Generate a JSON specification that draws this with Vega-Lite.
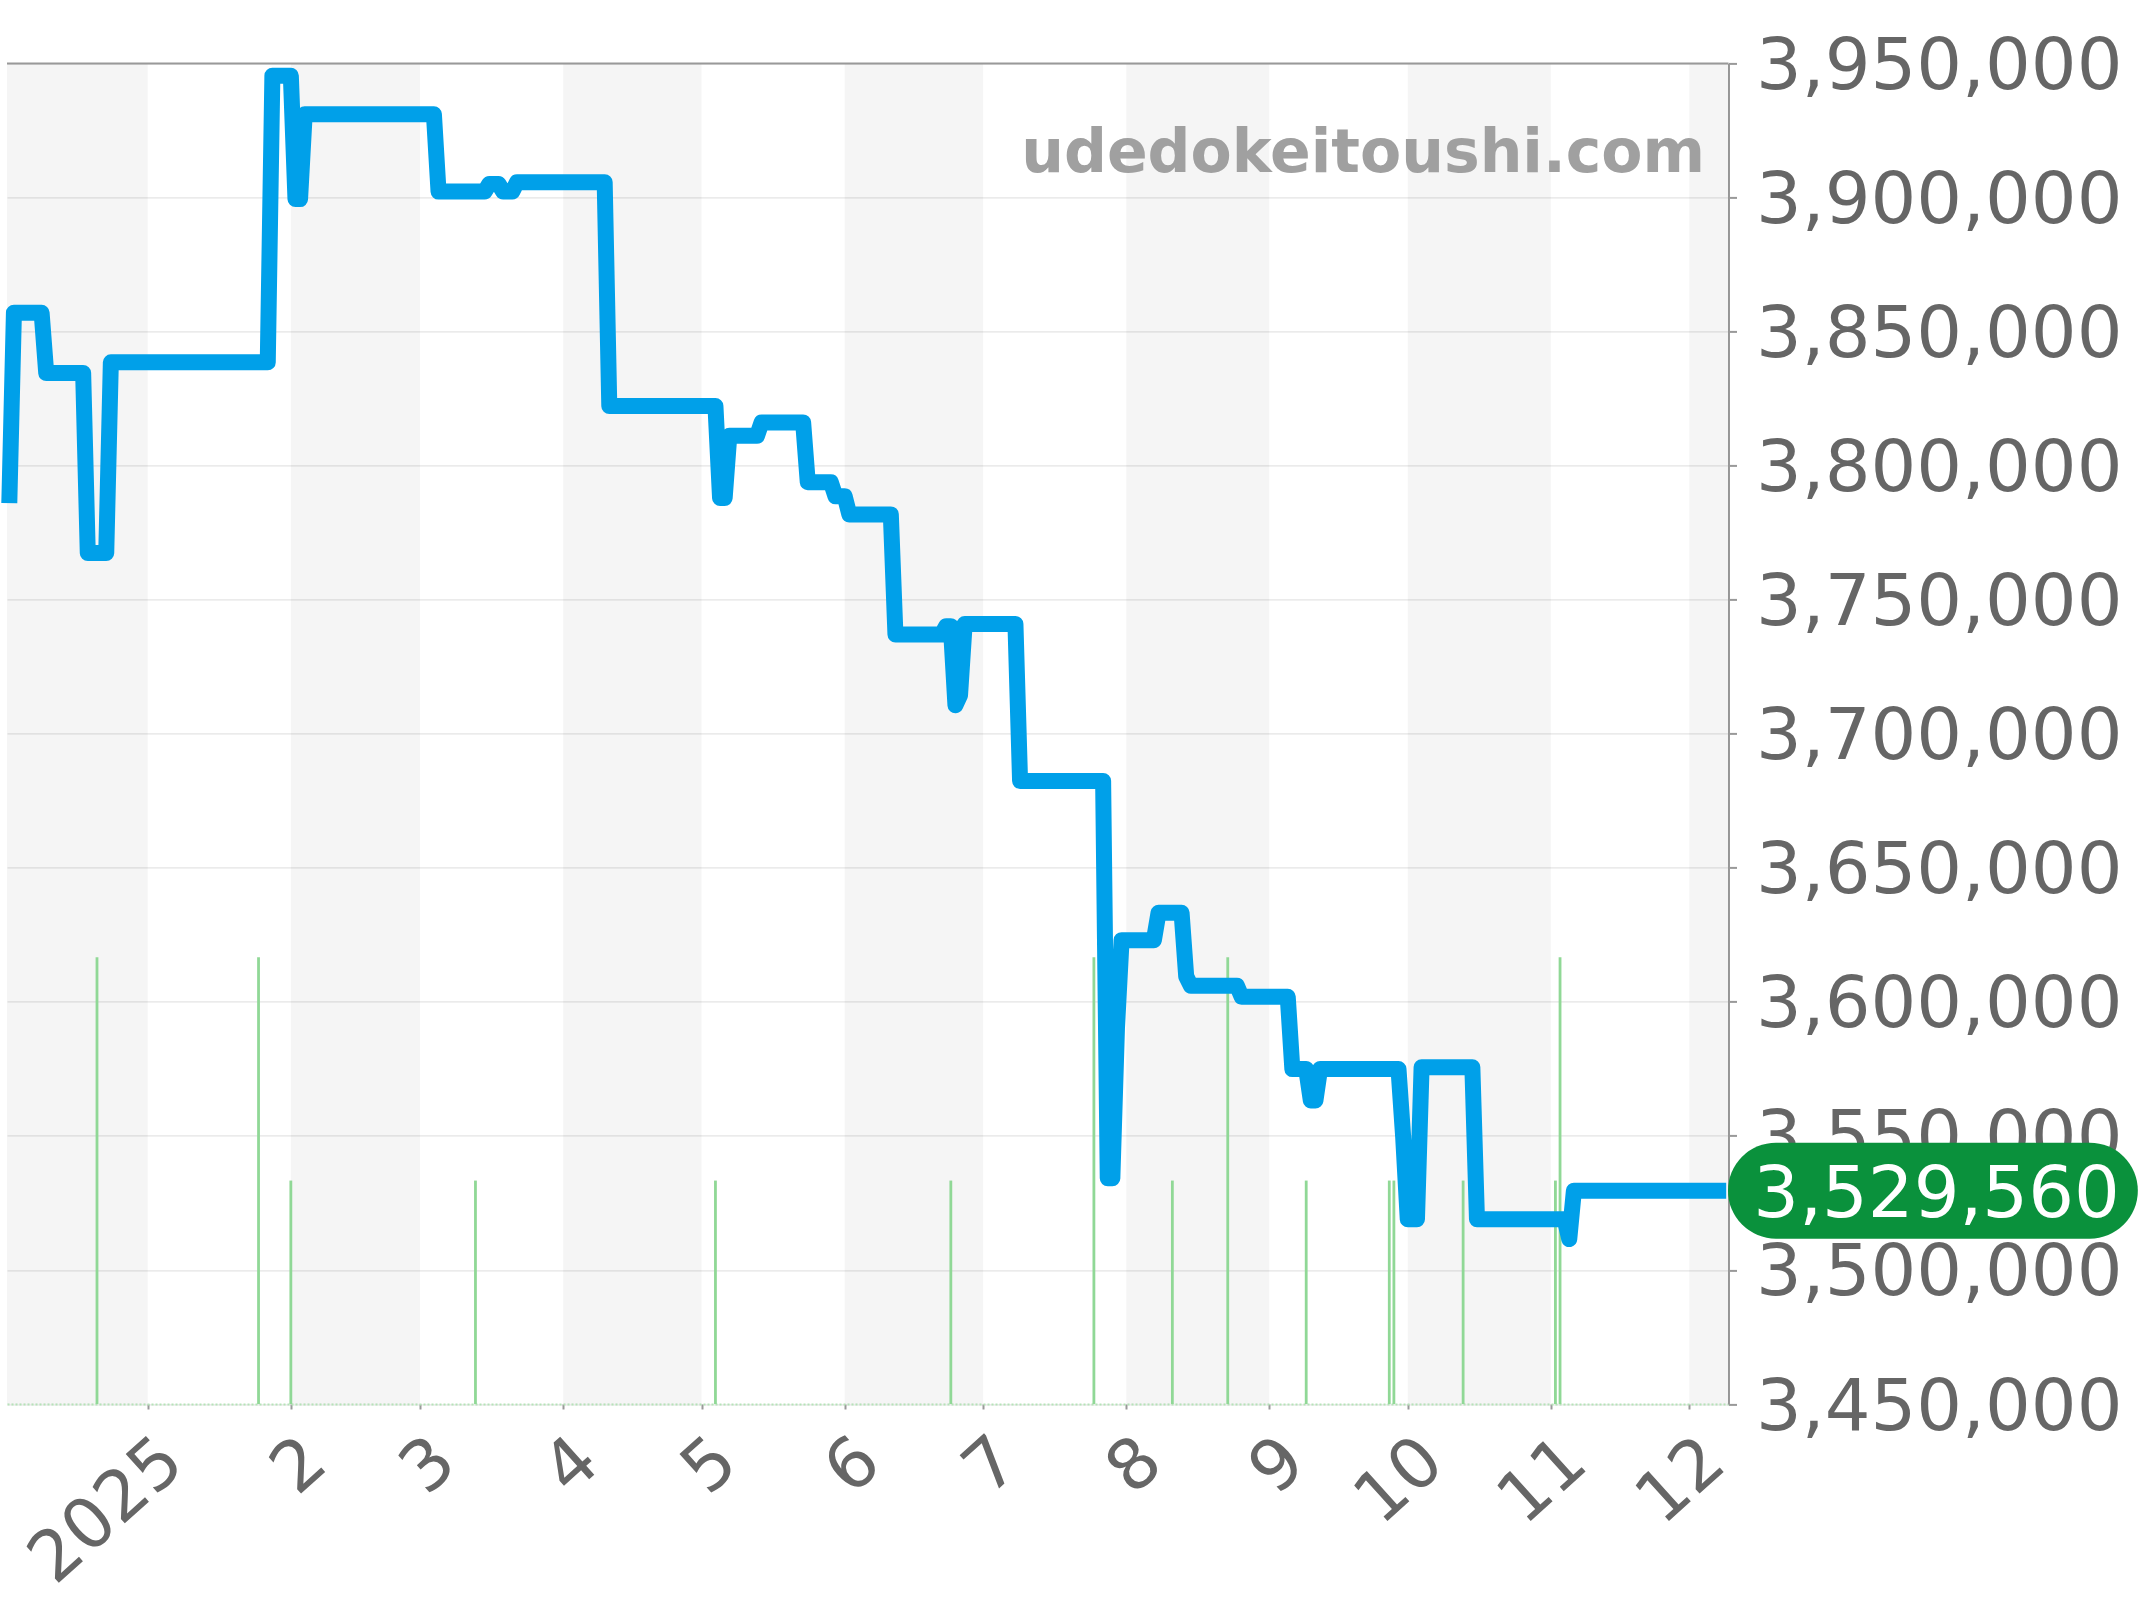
{
  "$schema": "https://vega.github.io/schema/vega-lite/v6.json",
  "autosize": {"type": "none"},
  "width": 1721.5,
  "height": 1340.6,
  "padding": {"left": 7, "top": 63.4, "right": 415.5, "bottom": 196},
  "background": "white",
  "config": {
    "font": "DejaVu Sans",
    "view": {"stroke": null}
  },
  "datasets": {
    "months": [
      {"start": "2024-12-01", "end": "2025-01-01"},
      {"start": "2025-02-01", "end": "2025-03-01"},
      {"start": "2025-04-01", "end": "2025-05-01"},
      {"start": "2025-06-01", "end": "2025-07-01"},
      {"start": "2025-08-01", "end": "2025-09-01"},
      {"start": "2025-10-01", "end": "2025-11-01"},
      {"start": "2025-12-01", "end": "2026-01-01"}
    ],
    "sales": [
      {"date": "2024-12-21", "count": 2},
      {"date": "2025-01-25", "count": 2},
      {"date": "2025-02-01", "count": 1},
      {"date": "2025-03-13", "count": 1},
      {"date": "2025-05-04", "count": 1},
      {"date": "2025-06-24", "count": 1},
      {"date": "2025-07-25", "count": 2},
      {"date": "2025-08-11", "count": 1},
      {"date": "2025-08-23", "count": 2},
      {"date": "2025-09-09", "count": 1},
      {"date": "2025-09-27", "count": 1},
      {"date": "2025-09-28", "count": 1},
      {"date": "2025-10-13", "count": 1},
      {"date": "2025-11-02", "count": 1},
      {"date": "2025-11-03", "count": 2}
    ],
    "prices": [
      {"date": "2024-12-02", "price": 3786000},
      {"date": "2024-12-03", "price": 3857000},
      {"date": "2024-12-09", "price": 3857000},
      {"date": "2024-12-10", "price": 3834500},
      {"date": "2024-12-18", "price": 3834500},
      {"date": "2024-12-19", "price": 3767400},
      {"date": "2024-12-23", "price": 3767400},
      {"date": "2024-12-24", "price": 3838500},
      {"date": "2025-01-27", "price": 3838500},
      {"date": "2025-01-28", "price": 3945400},
      {"date": "2025-02-01", "price": 3945400},
      {"date": "2025-02-02", "price": 3899400},
      {"date": "2025-02-03", "price": 3899400},
      {"date": "2025-02-04", "price": 3931000},
      {"date": "2025-03-04", "price": 3931000},
      {"date": "2025-03-05", "price": 3902200},
      {"date": "2025-03-15", "price": 3902200},
      {"date": "2025-03-16", "price": 3905000},
      {"date": "2025-03-18", "price": 3905000},
      {"date": "2025-03-19", "price": 3902200},
      {"date": "2025-03-21", "price": 3902200},
      {"date": "2025-03-22", "price": 3905700},
      {"date": "2025-04-10", "price": 3905700},
      {"date": "2025-04-11", "price": 3822200},
      {"date": "2025-05-04", "price": 3822200},
      {"date": "2025-05-05", "price": 3787900},
      {"date": "2025-05-06", "price": 3787900},
      {"date": "2025-05-07", "price": 3811100},
      {"date": "2025-05-13", "price": 3811100},
      {"date": "2025-05-14", "price": 3816100},
      {"date": "2025-05-23", "price": 3816100},
      {"date": "2025-05-24", "price": 3793800},
      {"date": "2025-05-29", "price": 3793800},
      {"date": "2025-05-30", "price": 3788600},
      {"date": "2025-06-01", "price": 3788600},
      {"date": "2025-06-02", "price": 3781800},
      {"date": "2025-06-11", "price": 3781800},
      {"date": "2025-06-12", "price": 3737000},
      {"date": "2025-06-22", "price": 3737000},
      {"date": "2025-06-23", "price": 3740100},
      {"date": "2025-06-24", "price": 3740100},
      {"date": "2025-06-25", "price": 3710600},
      {"date": "2025-06-26", "price": 3714400},
      {"date": "2025-06-27", "price": 3740900},
      {"date": "2025-07-08", "price": 3740900},
      {"date": "2025-07-09", "price": 3682400},
      {"date": "2025-07-27", "price": 3682400},
      {"date": "2025-07-28", "price": 3534200},
      {"date": "2025-07-29", "price": 3534200},
      {"date": "2025-07-30", "price": 3590200},
      {"date": "2025-07-31", "price": 3623000},
      {"date": "2025-08-07", "price": 3623000},
      {"date": "2025-08-08", "price": 3633200},
      {"date": "2025-08-13", "price": 3633200},
      {"date": "2025-08-14", "price": 3609500},
      {"date": "2025-08-15", "price": 3606000},
      {"date": "2025-08-25", "price": 3606000},
      {"date": "2025-08-26", "price": 3601900},
      {"date": "2025-09-05", "price": 3601900},
      {"date": "2025-09-06", "price": 3574900},
      {"date": "2025-09-09", "price": 3574900},
      {"date": "2025-09-10", "price": 3563200},
      {"date": "2025-09-11", "price": 3563200},
      {"date": "2025-09-12", "price": 3574900},
      {"date": "2025-09-29", "price": 3574900},
      {"date": "2025-09-30", "price": 3549800},
      {"date": "2025-10-01", "price": 3518900},
      {"date": "2025-10-03", "price": 3518900},
      {"date": "2025-10-04", "price": 3575600},
      {"date": "2025-10-15", "price": 3575600},
      {"date": "2025-10-16", "price": 3518900},
      {"date": "2025-11-04", "price": 3518900},
      {"date": "2025-11-05", "price": 3511500},
      {"date": "2025-11-06", "price": 3529560},
      {"date": "2025-12-09", "price": 3529560}
    ],
    "latest": [
      {"start": "2025-12-19T19:00:00Z", "end": "2026-02-25T19:00:00Z", "middle": "2026-01-23T14:00:00Z", "price": 3529560}
    ],
    "watermark": [
      {"date": "2025-12-04T10:00:00Z", "price": 3909500, "site": "udedokeitoushi.com"}
    ]
  },
  "resolve": {"scale": {"y": "independent"}},
  "layer": [
    {
      "data": {"name": "months"},
      "mark": {"type": "rect", "color": "#000", "opacity": 0.038, "clip": true},
      "encoding": {
        "x": {
          "field": "start",
          "type": "temporal",
          "scale": {"type": "utc", "padding": 0, "domain": ["2024-12-01T12:00:00Z", "2025-12-09T12:00:00Z"]},
          "axis": {
            "title": null,
            "grid": false,
            "tickCount": {"interval": "month", "step": 1},
            "labelExpr": "utcmonth(datum.value) === 0 ? utcyear(datum.value) : utcmonth(datum.value) + 1",
            "labelAngle": -42,
            "labelAlign": "right",
            "labelBaseline": "middle",
            "labelFontSize": 70,
            "labelColor": "#666",
            "labelOffset": 25,
            "labelPadding": 42,
            "labelOverlap": false,
            "labelBound": false,
            "labelFlush": false,
            "labelLimit": 0,
            "tickColor": "#999",
            "tickWidth": 2,
            "tickSize": 5,
            "domainColor": "#b5e3b8",
            "domainWidth": 2,
            "domainDash": [2, 2]
          }
        },
        "x2": {"field": "end"}
      }
    },
    {
      "data": {"name": "sales"},
      "mark": {"type": "bar", "color": "#90d896", "width": 2.8},
      "encoding": {
        "x": {
          "field": "date",
          "type": "temporal",
          "scale": {"type": "utc", "padding": 0, "domain": ["2024-12-01T12:00:00Z", "2025-12-09T12:00:00Z"]}
        },
        "y": {
          "field": "count",
          "type": "quantitative",
          "scale": {"domain": [0, 6], "nice": false},
          "axis": null
        }
      }
    },
    {
      "encoding": {
        "y": {
          "field": "price",
          "type": "quantitative",
          "scale": {"domain": [3450000, 3950000], "nice": false},
          "axis": {
            "title": null,
            "orient": "right",
            "values": [3450000, 3500000, 3550000, 3600000, 3650000, 3700000, 3750000, 3800000, 3850000, 3900000, 3950000],
            "format": ",d",
            "labelFontSize": 72,
            "labelColor": "#666",
            "labelPadding": 19,
            "labelOffset": 3,
            "labelOverlap": false,
            "labelBound": false,
            "labelFlush": false,
            "labelLimit": 0,
            "tickColor": "#999",
            "tickWidth": 2,
            "tickSize": 8,
            "domainColor": "#999",
            "domainWidth": 2,
            "gridColor": "#e4e4e4",
            "gridWidth": 1.2,
            "grid": true
          }
        }
      },
      "layer": [
        {
          "data": {"values": [{"price": 3950000}]},
          "mark": {"type": "rule", "color": "#999", "strokeWidth": 2}
        },
        {
          "data": {"name": "prices"},
          "mark": {"type": "line", "color": "#00a0e9", "strokeWidth": 16, "strokeCap": "butt", "strokeJoin": "round"},
          "encoding": {
            "x": {
              "field": "date",
              "type": "temporal",
              "scale": {"type": "utc", "padding": 0, "domain": ["2024-12-01T12:00:00Z", "2025-12-09T12:00:00Z"]}
            }
          }
        },
        {
          "data": {"name": "watermark"},
          "mark": {"type": "text", "color": "#a0a0a0", "fontSize": 60, "fontWeight": "bold", "align": "right", "baseline": "alphabetic"},
          "encoding": {
            "x": {
              "field": "date",
              "type": "temporal",
              "scale": {"type": "utc", "padding": 0, "domain": ["2024-12-01T12:00:00Z", "2025-12-09T12:00:00Z"]}
            },
            "text": {"field": "site"}
          }
        },
        {
          "data": {"name": "latest"},
          "mark": {"type": "rule", "color": "#0a913c", "strokeWidth": 96, "strokeCap": "round"},
          "encoding": {
            "x": {
              "field": "start",
              "type": "temporal",
              "scale": {"type": "utc", "padding": 0, "domain": ["2024-12-01T12:00:00Z", "2025-12-09T12:00:00Z"]}
            },
            "x2": {"field": "end"}
          }
        },
        {
          "data": {"name": "latest"},
          "mark": {"type": "text", "color": "white", "fontSize": 72, "align": "center", "baseline": "middle", "dy": 4},
          "encoding": {
            "x": {
              "field": "middle",
              "type": "temporal",
              "scale": {"type": "utc", "padding": 0, "domain": ["2024-12-01T12:00:00Z", "2025-12-09T12:00:00Z"]}
            },
            "text": {"field": "price", "type": "quantitative", "format": ",d"}
          }
        }
      ]
    }
  ]
}
